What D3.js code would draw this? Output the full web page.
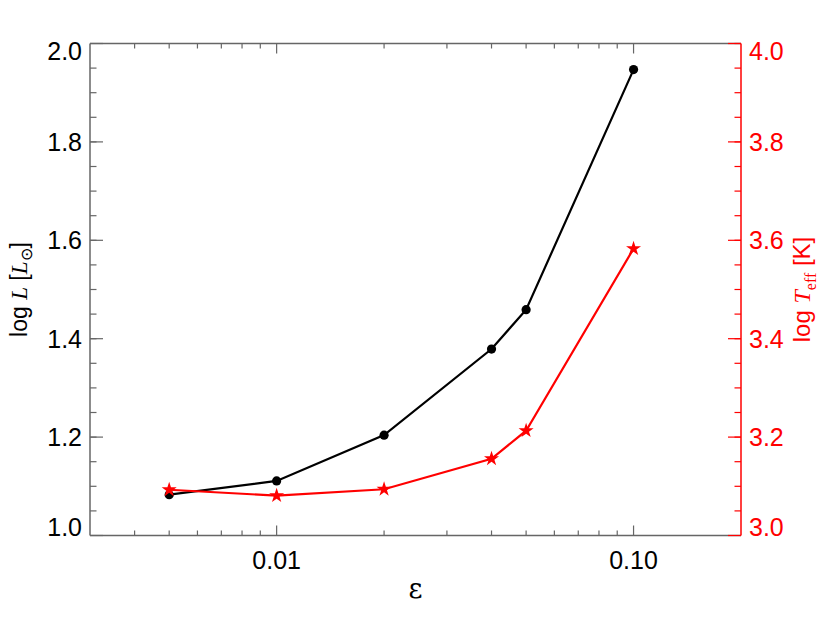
<!DOCTYPE html>
<html>
<head>
<meta charset="utf-8">
<script src="https://cdn.jsdelivr.net/npm/d3@7"></script>
<style>
  body { margin: 0; background: #fff; }
  text { font-family: "Liberation Sans", Arial, sans-serif; }
</style>
</head>
<body>
<svg id="chart" width="830" height="624"></svg>
<script>
// values
var eps = [0.005, 0.01, 0.02, 0.04, 0.05, 0.1];
var logL = [1.083, 1.111, 1.204, 1.379, 1.459, 1.947];
var logTeff = [3.093, 3.081, 3.094, 3.156, 3.213, 3.583];

var xMajor = [0.01, 0.1];
var xMajorLabels = ["0.01", "0.10"];
var yLeftTicks = [1.0, 1.2, 1.4, 1.6, 1.8, 2.0];
var yRightTicks = [3.0, 3.2, 3.4, 3.6, 3.8, 4.0];

// note: "top" is taken by window.top, so use other names
var mLeft = 90, mTop = 43.5, width = 651, height = 492;
var bottomY = mTop + height, rightX = mLeft + width;

var svg = d3.select("#chart");

var x = d3.scaleLog().domain([0.003, 0.2]).range([mLeft, rightX]);
var yL = d3.scaleLinear().domain([1.0, 2.0]).range([bottomY, mTop]);
var yR = d3.scaleLinear().domain([3.0, 4.0]).range([bottomY, mTop]);

var axisColor = "#666";
var red = "#ff0000";

// minor x ticks (2..9 in each decade)
var xMinor = [];
[0.001, 0.01, 0.1].forEach(function(dec) {
  for (var k = 2; k <= 9; k++) {
    var v = dec * k;
    if (v > 0.003 && v < 0.2) xMinor.push(v);
  }
});

var yMinorL = d3.range(1.05, 2.0, 0.05);
var yMinorR = d3.range(3.05, 4.0, 0.05);

// frame: bottom, top, left in grey
svg.append("line").attr("x1", mLeft).attr("x2", rightX)
  .attr("y1", bottomY).attr("y2", bottomY)
  .style("stroke", axisColor).style("stroke-width", 1.5);
svg.append("line").attr("x1", mLeft).attr("x2", rightX)
  .attr("y1", mTop).attr("y2", mTop)
  .style("stroke", axisColor).style("stroke-width", 1.5);
svg.append("line").attr("x1", mLeft).attr("x2", mLeft)
  .attr("y1", mTop).attr("y2", bottomY)
  .style("stroke", axisColor).style("stroke-width", 1.5);

// x ticks, bottom and top, pointing in
[bottomY, mTop].forEach(function(y0, side) {
  var dir = side === 0 ? -1 : 1;
  svg.selectAll(".xmaj" + side).data(xMajor).enter().append("line")
    .attr("x1", function(d) { return x(d); }).attr("x2", function(d) { return x(d); })
    .attr("y1", y0).attr("y2", y0 + dir * 10)
    .style("stroke", axisColor).style("stroke-width", 1.2);
  svg.selectAll(".xmin" + side).data(xMinor).enter().append("line")
    .attr("x1", function(d) { return x(d); }).attr("x2", function(d) { return x(d); })
    .attr("y1", y0).attr("y2", y0 + dir * 5)
    .style("stroke", axisColor).style("stroke-width", 1.2);
});

svg.selectAll(".xlab").data(xMajor).enter().append("text")
  .attr("x", function(d) { return x(d); })
  .attr("y", bottomY + 33)
  .style("text-anchor", "middle")
  .style("font-size", "25px")
  .text(function(d, i) { return xMajorLabels[i]; });

// left y axis ticks
svg.selectAll(".ylmaj").data(yLeftTicks).enter().append("line")
  .attr("x1", mLeft).attr("x2", mLeft + 13)
  .attr("y1", function(d) { return yL(d); }).attr("y2", function(d) { return yL(d); })
  .style("stroke", axisColor).style("stroke-width", 1.2);
svg.selectAll(".ylmin").data(yMinorL).enter().append("line")
  .attr("x1", mLeft).attr("x2", mLeft + 6.5)
  .attr("y1", function(d) { return yL(d); }).attr("y2", function(d) { return yL(d); })
  .style("stroke", axisColor).style("stroke-width", 1.2);

// end labels are pushed inside the axis range, like the original
function labelDy(i, n) {
  if (i === 0) return 0;
  if (i === n - 1) return 16.5;
  return 9;
}

svg.selectAll(".yllab").data(yLeftTicks).enter().append("text")
  .attr("x", mLeft - 8)
  .attr("y", function(d, i) { return yL(d) + labelDy(i, yLeftTicks.length); })
  .style("text-anchor", "end")
  .style("font-size", "25px")
  .text(function(d) { return d.toFixed(1); });

// right y axis, red
svg.append("line").attr("x1", rightX).attr("x2", rightX)
  .attr("y1", mTop).attr("y2", bottomY)
  .style("stroke", red).style("stroke-width", 1.5);
svg.selectAll(".yrmaj").data(yRightTicks).enter().append("line")
  .attr("x1", rightX).attr("x2", rightX - 13)
  .attr("y1", function(d) { return yR(d); }).attr("y2", function(d) { return yR(d); })
  .style("stroke", red).style("stroke-width", 1.2);
svg.selectAll(".yrmin").data(yMinorR).enter().append("line")
  .attr("x1", rightX).attr("x2", rightX - 6.5)
  .attr("y1", function(d) { return yR(d); }).attr("y2", function(d) { return yR(d); })
  .style("stroke", red).style("stroke-width", 1.2);

svg.selectAll(".yrlab").data(yRightTicks).enter().append("text")
  .attr("x", rightX + 8)
  .attr("y", function(d, i) { return yR(d) + labelDy(i, yRightTicks.length); })
  .style("text-anchor", "start")
  .style("font-size", "25px")
  .style("fill", red)
  .text(function(d) { return d.toFixed(1); });

// axis titles
svg.append("text")
  .attr("x", mLeft + width / 2)
  .attr("y", bottomY + 62)
  .style("text-anchor", "middle")
  .style("font-family", "'DejaVu Serif', serif")
  .style("font-size", "27px")
  .text("ε");

var serif = "'Liberation Serif', serif";

var tl = svg.append("text")
  .attr("transform", "translate(27," + (mTop + height / 2) + ") rotate(-90)")
  .style("text-anchor", "middle")
  .style("font-size", "23px");
tl.append("tspan").text("log ");
tl.append("tspan").style("font-family", serif).style("font-style", "italic").text("L");
tl.append("tspan").text(" [");
tl.append("tspan").style("font-family", serif).style("font-style", "italic").text("L");
tl.append("tspan").attr("dy", 5).style("font-size", "16px").text("⊙");
tl.append("tspan").attr("dy", -5).text("]");

var tr = svg.append("text")
  .attr("transform", "translate(810," + (mTop + height / 2) + ") rotate(-90)")
  .style("text-anchor", "middle")
  .style("font-size", "24px")
  .style("fill", red);
tr.append("tspan").text("log ");
tr.append("tspan").style("font-family", serif).style("font-style", "italic").text("T");
tr.append("tspan").attr("dy", 6).style("font-family", serif).style("font-size", "16px").text("eff");
tr.append("tspan").attr("dy", -6).text(" [K]");

// black series: log L
var lineL = d3.line()
  .x(function(d, i) { return x(eps[i]); })
  .y(function(d) { return yL(d); });

svg.append("path").datum(logL)
  .attr("d", lineL)
  .style("fill", "none").style("stroke", "#000").style("stroke-width", 2.2);

svg.selectAll(".dot").data(logL).enter().append("circle")
  .attr("cx", function(d, i) { return x(eps[i]); })
  .attr("cy", function(d) { return yL(d); })
  .attr("r", 4.6)
  .style("fill", "#000");

// red series: log Teff
var lineT = d3.line()
  .x(function(d, i) { return x(eps[i]); })
  .y(function(d) { return yR(d); });

svg.append("path").datum(logTeff)
  .attr("d", lineT)
  .style("fill", "none").style("stroke", red).style("stroke-width", 2.2);

var star = d3.symbol().type(d3.symbolStar).size(70);
svg.selectAll(".star").data(logTeff).enter().append("path")
  .attr("d", star)
  .attr("transform", function(d, i) { return "translate(" + x(eps[i]) + "," + yR(d) + ")"; })
  .style("fill", red);
</script>
</body>
</html>
